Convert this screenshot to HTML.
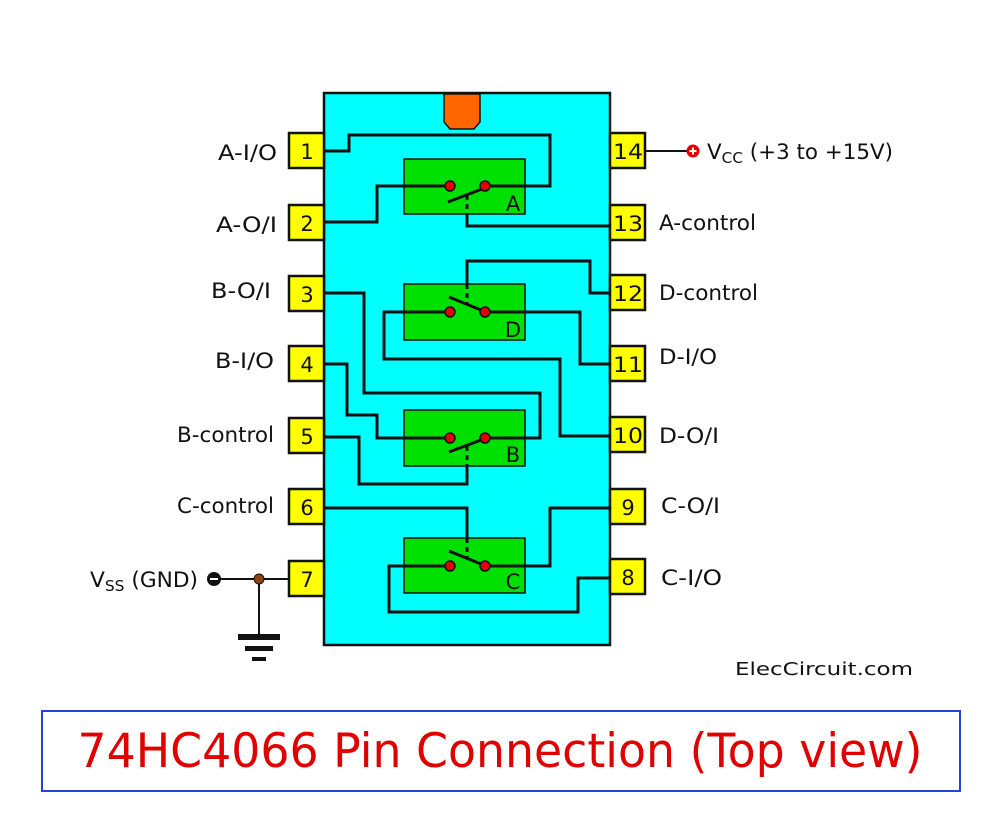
<!DOCTYPE html>
<html><head><meta charset="utf-8"><style>body{margin:0;background:#fff}svg{display:block}</style></head>
<body>
<svg width="1000" height="819" viewBox="0 0 1000 819" xmlns="http://www.w3.org/2000/svg" font-family="'DejaVu Sans','Liberation Sans',sans-serif">
<rect x="0" y="0" width="1000" height="819" fill="#fff"/>
<rect x="324" y="93" width="286" height="552" fill="#00ffff" stroke="#111" stroke-width="2.5"/>
<path d="M444 94 H480 V122 L474 129 H450 L444 122 Z" fill="#ff6600" stroke="#111" stroke-width="1.5"/>
<g fill="#ffff00" stroke="#111" stroke-width="2.5">
<rect x="289" y="133" width="35" height="35"/><rect x="289" y="205" width="35" height="35"/>
<rect x="289" y="276" width="35" height="35"/><rect x="289" y="346" width="35" height="35"/>
<rect x="289" y="418" width="35" height="35"/><rect x="289" y="489" width="35" height="35"/>
<rect x="289" y="561" width="35" height="35"/>
<rect x="610" y="133" width="35" height="35"/><rect x="610" y="205" width="35" height="35"/>
<rect x="610" y="275" width="35" height="35"/><rect x="610" y="346" width="35" height="35"/>
<rect x="610" y="417" width="35" height="35"/><rect x="610" y="489" width="35" height="35"/>
<rect x="610" y="559" width="35" height="35"/>
</g>
<g font-size="21" fill="#111" text-anchor="middle">
<text x="307" y="159">1</text><text x="307" y="231">2</text><text x="307" y="302">3</text>
<text x="307" y="372">4</text><text x="307" y="444">5</text><text x="307" y="515">6</text><text x="307" y="587">7</text>
<text x="628" y="159" textLength="30" lengthAdjust="spacingAndGlyphs">14</text><text x="628" y="231" textLength="30" lengthAdjust="spacingAndGlyphs">13</text><text x="628" y="301" textLength="30" lengthAdjust="spacingAndGlyphs">12</text>
<text x="628" y="372" textLength="30" lengthAdjust="spacingAndGlyphs">11</text><text x="628" y="443" textLength="30" lengthAdjust="spacingAndGlyphs">10</text><text x="628" y="515">9</text><text x="628" y="585">8</text>
</g>
<g fill="#00e000" stroke="#111" stroke-width="1.5">
<rect x="404" y="159" width="121" height="55"/><rect x="404" y="284" width="121" height="56"/>
<rect x="404" y="410" width="121" height="56"/><rect x="404" y="538" width="121" height="55"/>
</g>
<g font-size="21" fill="#111" text-anchor="middle">
<text x="513" y="211">A</text><text x="513" y="337">D</text><text x="513" y="462">B</text><text x="513" y="589">C</text>
</g>
<g fill="none" stroke="#111" stroke-width="3">
<polyline points="324,151 349,151 349,135 550,135 550,186 485,186"/>
<polyline points="324,222 377,222 377,186 450,186"/>
<polyline points="467,214 467,226 610,226"/>
<polyline points="610,293 590,293 590,261 467,261 467,284"/>
<polyline points="450,312 384,312 384,359 560,359 560,436 610,436"/>
<polyline points="485,312 580,312 580,364 610,364"/>
<polyline points="324,293 364,293 364,393 540,393 540,438 485,438"/>
<polyline points="324,364 347,364 347,415 377,415 377,438 450,438"/>
<polyline points="467,466 467,484 359,484 359,437 324,437"/>
<polyline points="324,508 467,508 467,538"/>
<polyline points="450,566 389,566 389,612 578,612 578,578 610,578"/>
<polyline points="485,566 550,566 550,508 610,508"/>
<line x1="448" y1="202" x2="482" y2="189"/>
<line x1="449" y1="297" x2="481" y2="310"/>
<line x1="449" y1="452" x2="481" y2="440"/>
<line x1="449" y1="551" x2="481" y2="564"/>
</g>
<g stroke="#111" stroke-width="3" stroke-dasharray="5,4">
<line x1="467" y1="195" x2="467" y2="214"/>
<line x1="467" y1="284" x2="467" y2="304"/>
<line x1="467" y1="446" x2="467" y2="466"/>
<line x1="467" y1="538" x2="467" y2="558"/>
</g>
<g fill="#e00000" stroke="#111" stroke-width="1.5">
<circle cx="450" cy="186" r="5"/><circle cx="485" cy="186" r="5"/>
<circle cx="450" cy="312" r="5"/><circle cx="485" cy="312" r="5"/>
<circle cx="450" cy="438" r="5"/><circle cx="485" cy="438" r="5"/>
<circle cx="450" cy="566" r="5"/><circle cx="485" cy="566" r="5"/>
</g>
<line x1="645" y1="151" x2="690" y2="151" stroke="#111" stroke-width="2"/>
<circle cx="693" cy="151" r="6.5" fill="#e00000"/>
<path d="M689.5 151 H696.5 M693 147.5 V154.5" stroke="#fff" stroke-width="2"/>
<text x="707" y="159" font-size="21" fill="#111" textLength="186" lengthAdjust="spacingAndGlyphs">V<tspan font-size="15" dy="4">CC</tspan><tspan dy="-4"> (+3 to +15V)</tspan></text>
<line x1="214" y1="579" x2="289" y2="579" stroke="#111" stroke-width="2"/>
<circle cx="214" cy="579" r="7" fill="#111"/>
<line x1="210" y1="579" x2="218" y2="579" stroke="#fff" stroke-width="2"/>
<line x1="259" y1="579" x2="259" y2="635" stroke="#111" stroke-width="2"/>
<circle cx="259" cy="579" r="5" fill="#8b4513" stroke="#111" stroke-width="1"/>
<rect x="238" y="634" width="42" height="6" fill="#111"/>
<rect x="245" y="646" width="28" height="5" fill="#111"/>
<rect x="252" y="657" width="14" height="4" fill="#111"/>
<text x="90" y="587" font-size="21" fill="#111" textLength="108" lengthAdjust="spacingAndGlyphs">V<tspan font-size="15" dy="4">SS</tspan><tspan dy="-4"> (GND)</tspan></text>
<g font-size="21" fill="#111">
<text x="218" y="160" textLength="59" lengthAdjust="spacingAndGlyphs">A-I/O</text><text x="216" y="232" textLength="61" lengthAdjust="spacingAndGlyphs">A-O/I</text>
<text x="211" y="298" textLength="60" lengthAdjust="spacingAndGlyphs">B-O/I</text><text x="215" y="368" textLength="59" lengthAdjust="spacingAndGlyphs">B-I/O</text>
<text x="177" y="442" textLength="97" lengthAdjust="spacingAndGlyphs">B-control</text><text x="177" y="513" textLength="97" lengthAdjust="spacingAndGlyphs">C-control</text>
<text x="659" y="230" textLength="97" lengthAdjust="spacingAndGlyphs">A-control</text><text x="659" y="300" textLength="99" lengthAdjust="spacingAndGlyphs">D-control</text>
<text x="659" y="364" textLength="58" lengthAdjust="spacingAndGlyphs">D-I/O</text><text x="659" y="443" textLength="60" lengthAdjust="spacingAndGlyphs">D-O/I</text>
<text x="661" y="513" textLength="59" lengthAdjust="spacingAndGlyphs">C-O/I</text><text x="661" y="585" textLength="61" lengthAdjust="spacingAndGlyphs">C-I/O</text>
<text x="735" y="675" font-size="18" textLength="178" lengthAdjust="spacingAndGlyphs">ElecCircuit.com</text>
</g>
<rect x="42" y="711" width="918" height="80" fill="#fff" stroke="#2244dd" stroke-width="2"/>
<text x="500" y="767" font-size="47" fill="#e00000" text-anchor="middle" textLength="845" lengthAdjust="spacingAndGlyphs">74HC4066 Pin Connection (Top view)</text>
</svg>
</body></html>
